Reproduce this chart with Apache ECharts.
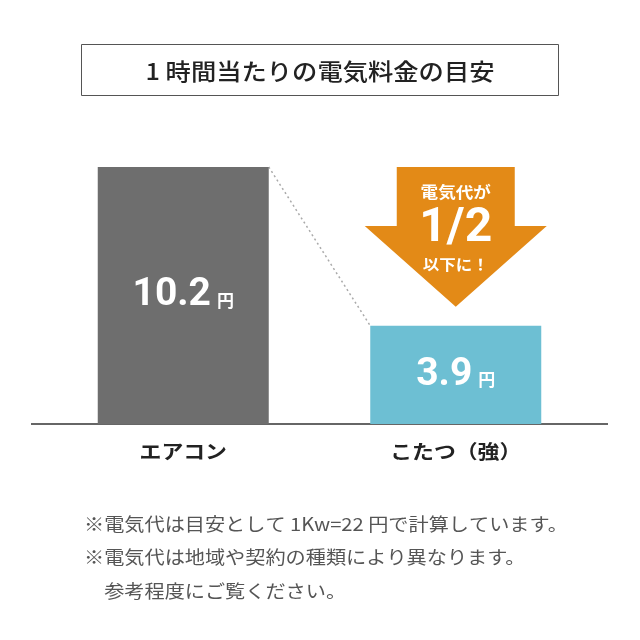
<!DOCTYPE html>
<html>
<head>
<meta charset="utf-8">
<script src="https://cdn.jsdelivr.net/npm/echarts@6/dist/echarts.min.js"></script>
<style>
  html, body { margin: 0; padding: 0; background: #fff; }
  #chart { width: 640px; height: 640px; }
</style>
</head>
<body>
<div id="chart"></div>
<script>
// データ
const categories = ['エアコン', 'こたつ（強）']
const costs = [10.2, 3.9]
const barColors = ['#6e6e6e', '#6dbfd3']
const unit = '円'
const titleText = '1 時間当たりの電気料金の目安'
const arrowTexts = ['電気代が', '1/2', '以下に！']
const notes = [
  '※電気代は目安として 1Kw=22 円で計算しています。',
  '※電気代は地域や契約の種類により異なります。',
  '　参考程度にご覧ください。'
]

const JP = '"Noto Sans CJK JP", "Noto Sans", sans-serif'
const NUM = 'Roboto, "Noto Sans", sans-serif'
const BAR_W = 171

const chart = echarts.init(document.getElementById('chart'), null, { renderer: 'canvas' })

// 点線（棒の上端同士をつなぐ）
const renderConnector = (params, api) => {
  if (params.dataIndex !== 0) return
  const a = api.coord([0, costs[0]])
  const b = api.coord([1, costs[1]])
  return {
    type: 'line',
    shape: { x1: a[0] + BAR_W / 2, y1: a[1], x2: b[0] - BAR_W / 2, y2: b[1] },
    style: { stroke: '#aaaaaa', lineWidth: 1.5, lineDash: [2, 3] },
    silent: true
  }
}

// カテゴリ名（字間を少し広げる）
const renderCategory = (params, api) => {
  const p = api.coord([api.value(0), 0])
  return {
    type: 'text',
    x: p[0], y: p[1] + 28, scaleX: 1.15,
    style: {
      text: categories[api.value(0)], fill: '#222', font: 'bold 19px ' + JP,
      align: 'center', verticalAlign: 'middle'
    }
  }
}

// 矢印（電気代が1/2以下に！）
const renderArrow = (params, api) => {
  if (params.dataIndex !== 0) return
  const top = api.coord([1, costs[0]])
  const low = api.coord([1, costs[1]])
  const cx = top[0]
  const y0 = top[1]
  const tip = low[1] - 19
  const headY = y0 + 59
  const sw = 59, hw = 91
  return {
    type: 'group',
    children: [
      {
        type: 'polygon',
        shape: {
          points: [
            [cx - sw, y0], [cx + sw, y0], [cx + sw, headY], [cx + hw, headY],
            [cx, tip], [cx - hw, headY], [cx - sw, headY]
          ]
        },
        style: { fill: '#e38a17' }
      },
      {
        type: 'text', x: cx, y: y0 + 25, scaleX: 1.1,
        style: { text: arrowTexts[0], fill: '#fff', font: 'bold 16px ' + JP, align: 'center', verticalAlign: 'middle' }
      },
      {
        type: 'text', x: cx, y: y0 + 62,
        style: { text: arrowTexts[1], fill: '#fff', font: 'bold 48px ' + NUM, align: 'center', verticalAlign: 'middle' }
      },
      {
        type: 'text', x: cx, y: y0 + 97, scaleX: 1.1,
        style: { text: arrowTexts[2], fill: '#fff', font: 'bold 15px ' + JP, align: 'center', verticalAlign: 'middle' }
      }
    ]
  }
}

const option = {
  animation: false,
  backgroundColor: '#fff',
  grid: { left: 47, right: 48, top: 167, bottom: 216, containLabel: false },
  xAxis: {
    type: 'category',
    data: categories,
    axisLine: { show: false },
    axisTick: { show: false },
    axisLabel: { show: false }
  },
  yAxis: {
    type: 'value',
    min: 0,
    max: 'dataMax',
    show: false,
    splitLine: { show: false }
  },
  series: [
    {
      type: 'bar',
      barWidth: BAR_W,
      data: costs.map((v, i) => ({ value: v, itemStyle: { color: barColors[i] } })),
      label: {
        show: true,
        position: 'inside',
        formatter: p => `{n|${p.value}}{u|${unit}}`,
        rich: {
          n: { color: '#fff', fontFamily: NUM, fontWeight: 'bold', fontSize: 39 },
          u: { color: '#fff', fontFamily: JP, fontWeight: 'bold', fontSize: 17, padding: [10, 0, 0, 6] }
        }
      },
      z: 2
    },
    {
      type: 'custom',
      renderItem: renderConnector,
      data: [[0, costs[0]]],
      z: 1
    },
    {
      type: 'custom',
      renderItem: renderCategory,
      data: categories.map((c, i) => [i, 0]),
      z: 2
    },
    {
      type: 'custom',
      renderItem: renderArrow,
      data: [[1, costs[1]]],
      z: 3
    }
  ],
  graphic: [
    {
      type: 'rect',
      shape: { x: 81.5, y: 44.5, width: 477, height: 51 },
      style: { fill: '#fff', stroke: '#555', lineWidth: 1 }
    },
    {
      type: 'text', x: 320, y: 71, scaleX: 1.1,
      style: { text: titleText, fill: '#222', font: '500 23px ' + JP, align: 'center', verticalAlign: 'middle' }
    },
    {
      type: 'line',
      shape: { x1: 31, y1: 424, x2: 608, y2: 424 },
      style: { stroke: '#666', lineWidth: 2 }
    },
    ...notes.map((t, i) => ({
      type: 'text', x: 84, y: 524 + i * 33.5, scaleX: 1.12,
      style: { text: t, fill: '#555', font: '18px ' + JP, verticalAlign: 'middle' }
    }))
  ]
}

chart.setOption(option)
</script>
</body>
</html>
